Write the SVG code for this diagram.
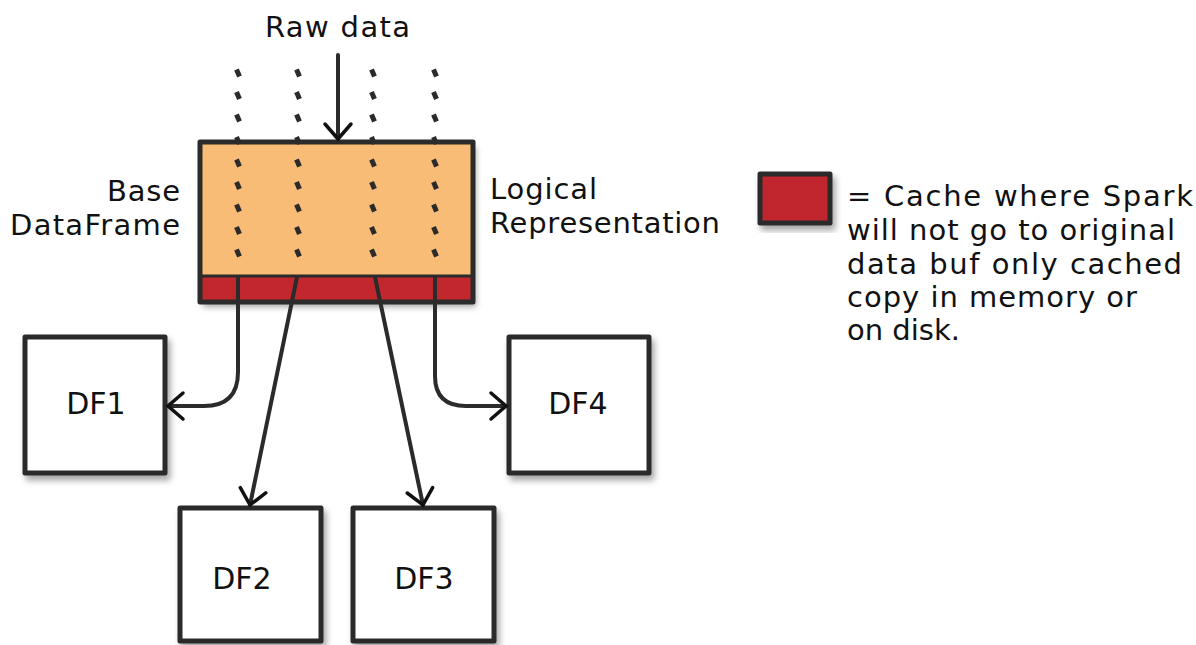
<svg xmlns="http://www.w3.org/2000/svg" width="1196" height="645" viewBox="0 0 1196 645">
  <style>
    text { font-family: "DejaVu Sans", "Liberation Sans", sans-serif; font-size: 29px; fill: #111; }
    .box { fill: #fff; stroke: #2b2b2b; stroke-width: 5; stroke-linejoin: round; filter: url(#shadow); }
    .conn { fill: none; stroke: #2b2b2b; stroke-width: 4; stroke-linecap: round; stroke-linejoin: round; }
    .lbl { text-anchor: middle; font-size: 30px; }
    .dot { stroke: #2b2b2b; stroke-width: 5; }
  </style>
  <defs>
    <filter id="shadow" x="-20%" y="-20%" width="140%" height="140%">
      <feDropShadow dx="3" dy="5" stdDeviation="3" flood-color="#000" flood-opacity="0.35"/>
    </filter>
    <marker id="arrow" markerUnits="userSpaceOnUse" viewBox="-20 -16 24 32" refX="0" refY="0" markerWidth="24" markerHeight="32" orient="auto" overflow="visible">
      <path d="M-15,-13 L0,0 L-15,13" fill="none" stroke="#111" stroke-width="3.5" stroke-linecap="round" stroke-linejoin="miter"/>
    </marker>
    <path id="d" class="dot" d="M-1.5,-3.5 L1.5,3.5"/>
  </defs>
  <rect width="1196" height="645" fill="#fff"/>

  <g id="raw-data">
    <text x="265" y="37" textLength="145">Raw data</text>
  </g>

  <g id="base-dataframe">
    <rect x="200" y="142" width="273" height="160" fill="#f8bc77" stroke="none" filter="url(#shadow)"/>
    <rect x="200" y="276" width="273" height="26" fill="#c1272d"/>
    <line x1="200" y1="276" x2="473" y2="276" stroke="#2b2b2b" stroke-width="3"/>
    <rect x="200" y="142" width="273" height="160" fill="none" stroke="#2b2b2b" stroke-width="5" stroke-linejoin="round"/>
    <g id="columns">
      <g transform="translate(238,0)">
        <use href="#d" y="73"/><use href="#d" y="95.5"/><use href="#d" y="118"/><use href="#d" y="140.5"/><use href="#d" y="163"/><use href="#d" y="185.5"/><use href="#d" y="208"/><use href="#d" y="230.5"/><use href="#d" y="253"/>
      </g>
      <g transform="translate(298,0)">
        <use href="#d" y="73"/><use href="#d" y="95.5"/><use href="#d" y="118"/><use href="#d" y="140.5"/><use href="#d" y="163"/><use href="#d" y="185.5"/><use href="#d" y="208"/><use href="#d" y="230.5"/><use href="#d" y="253"/>
      </g>
      <g transform="translate(373,0)">
        <use href="#d" y="73"/><use href="#d" y="95.5"/><use href="#d" y="118"/><use href="#d" y="140.5"/><use href="#d" y="163"/><use href="#d" y="185.5"/><use href="#d" y="208"/><use href="#d" y="230.5"/><use href="#d" y="253"/>
      </g>
      <g transform="translate(435,0)">
        <use href="#d" y="73"/><use href="#d" y="95.5"/><use href="#d" y="118"/><use href="#d" y="140.5"/><use href="#d" y="163"/><use href="#d" y="185.5"/><use href="#d" y="208"/><use href="#d" y="230.5"/><use href="#d" y="253"/>
      </g>
    </g>
    <text x="107" y="201" textLength="73">Base</text>
    <text x="10" y="235" textLength="170">DataFrame</text>
    <text x="490" y="199" textLength="107">Logical</text>
    <text x="490" y="233" textLength="230">Representation</text>
  </g>

  <g id="df1">
    <rect class="box" x="25" y="337" width="140" height="136"/>
    <text class="lbl" x="96" y="414">DF1</text>
  </g>
  <g id="df4">
    <rect class="box" x="509" y="337" width="140" height="136"/>
    <text class="lbl" x="578" y="414">DF4</text>
  </g>
  <g id="df2">
    <rect class="box" x="180" y="508" width="141" height="133"/>
    <text class="lbl" x="242" y="589">DF2</text>
  </g>
  <g id="df3">
    <rect class="box" x="353" y="508" width="141" height="133"/>
    <text class="lbl" x="424" y="589">DF3</text>
  </g>

  <g id="legend">
    <rect x="760" y="174" width="70" height="49" fill="#c1272d" stroke="#2b2b2b" stroke-width="5" stroke-linejoin="round" filter="url(#shadow)"/>
    <text x="847" y="206" textLength="346">= Cache where Spark</text>
    <text x="847" y="240" textLength="328">will not go to original</text>
    <text x="847" y="274" textLength="335">data buf only cached</text>
    <text x="847" y="307" textLength="290">copy in memory or</text>
    <text x="847" y="340" textLength="113">on disk.</text>
  </g>

  <g id="connectors">
    <path class="conn" d="M338,55 L338,139" marker-end="url(#arrow)"/>
    <path class="conn" d="M238,277 L238,372 Q238,406 204,406 L168,406" marker-end="url(#arrow)"/>
    <path class="conn" d="M297,277 L250,505" marker-end="url(#arrow)"/>
    <path class="conn" d="M375,277 L423,505" marker-end="url(#arrow)"/>
    <path class="conn" d="M435,277 L435,376 Q435,406 466,406 L506,406" marker-end="url(#arrow)"/>
  </g>
</svg>
